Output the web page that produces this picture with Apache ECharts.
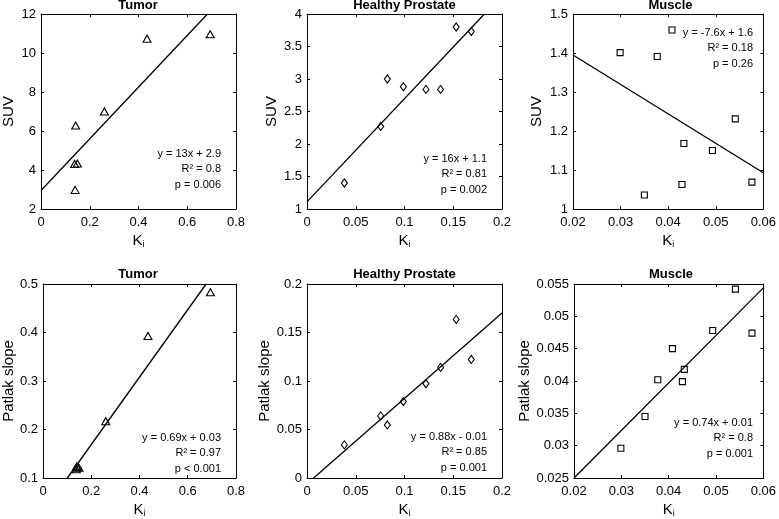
<!DOCTYPE html>
<html><head><meta charset="utf-8">
<script src="https://cdn.jsdelivr.net/npm/echarts@6/dist/echarts.min.js"></script>
<style>html,body{margin:0;padding:0;background:#fff}#c{width:779px;height:519px}</style>
</head><body><div id="c"></div>
<script>
// ---- data ----
const tumorKi = [0.142, 0.138, 0.149, 0.140, 0.260, 0.435, 0.694];
const tumorSUV = [6.28, 4.31, 4.33, 2.98, 7.0, 10.73, 10.96];
const tumorPatlak = [0.122, 0.118, 0.121, 0.124, 0.217, 0.393, 0.483];

const prostateKi = [0.0383, 0.0756, 0.0824, 0.0988, 0.122, 0.137, 0.153, 0.1685];
const prostateSUV = [1.40, 2.27, 3.00, 2.88, 2.84, 2.84, 3.80, 3.73];
const prostatePatlak = [0.0341, 0.064, 0.0547, 0.0788, 0.0971, 0.114, 0.1635, 0.1222];

const muscleKi = [0.0299, 0.0350, 0.0377, 0.0408, 0.0433, 0.0429, 0.0493, 0.0541, 0.0576];
const muscleSUV = [1.401, 1.036, 1.391, 1.459, 1.168, 1.063, 1.150, 1.231, 1.069];
const musclePatlak = [0.0296, 0.0345, 0.0402, 0.0450, 0.0418, 0.0399, 0.0478, 0.0542, 0.0474];

// fitted lines (endpoints)
const tumorSUVFit = [[0, 2.95], [0.683, 12]];
const prostateSUVFit = [[0, 1.11], [0.182, 4]];
const muscleSUVFit = [[0.02, 1.395], [0.06, 1.093]];
const tumorPatlakFit = [[0.101, 0.1], [0.676, 0.5]];
const prostatePatlakFit = [[0.0068, 0], [0.2, 0.170]];
const musclePatlakFit = [[0.02, 0.025], [0.06, 0.0544]];

const titles = ['Tumor', 'Healthy Prostate', 'Muscle', 'Tumor', 'Healthy Prostate', 'Muscle'];
const yNames = ['SUV', 'SUV', 'SUV', 'Patlak slope', 'Patlak slope', 'Patlak slope'];
const annotations = [
  ['y = 13x + 2.9', 'R² = 0.8', 'p = 0.006'],
  ['y = 16x + 1.1', 'R² = 0.81', 'p = 0.002'],
  ['y = -7.6x + 1.6', 'R² = 0.18', 'p = 0.26'],
  ['y = 0.69x + 0.03', 'R² = 0.97', 'p < 0.001'],
  ['y = 0.88x - 0.01', 'R² = 0.85', 'p = 0.001'],
  ['y = 0.74x + 0.01', 'R² = 0.8', 'p = 0.001']
];
// axis ranges: [xmin,xmax,xint,ymin,ymax,yint]
const ranges = [
  [0, 0.8, 0.2, 2, 12, 2],
  [0, 0.2, 0.05, 1, 4, 0.5],
  [0.02, 0.06, 0.01, 1, 1.5, 0.1],
  [0, 0.8, 0.2, 0.1, 0.5, 0.1],
  [0, 0.2, 0.05, 0, 0.2, 0.05],
  [0.02, 0.06, 0.01, 0.025, 0.055, 0.005]
];

// ---- layout ----
const FONT = '"Liberation Sans", Arial, Helvetica, sans-serif';
const grids = [
  {left: 40, top: 14, width: 196, height: 195},
  {left: 307, top: 14, width: 195, height: 195},
  {left: 573, top: 14, width: 195, height: 195},
  {left: 40, top: 284, width: 196, height: 194},
  {left: 307, top: 284, width: 195, height: 194},
  {left: 574, top: 284, width: 194, height: 194}
];
const yNameGap = [25, 28, 29, 27, 34, 42];
const annoTop = [148, 153, 27, 432, 431, 417];
const panels = [
  {x: tumorKi, y: tumorSUV, fit: tumorSUVFit, sym: 'triangle', size: [8, 7]},
  {x: prostateKi, y: prostateSUV, fit: prostateSUVFit, sym: 'diamond', size: [6, 8]},
  {x: muscleKi, y: muscleSUV, fit: muscleSUVFit, sym: 'rect', size: [6, 6]},
  {x: tumorKi, y: tumorPatlak, fit: tumorPatlakFit, sym: 'triangle', size: [8, 7]},
  {x: prostateKi, y: prostatePatlak, fit: prostatePatlakFit, sym: 'diamond', size: [6, 8]},
  {x: muscleKi, y: musclePatlak, fit: musclePatlakFit, sym: 'rect', size: [6, 6]}
];

const xAxis = [], yAxis = [], series = [], title = [], graphic = [];
const lineStyle = {color: '#000', width: 1};
panels.forEach((p, i) => {
  const r = ranges[i];
  const g = grids[i];
  const tick = {show: true, inside: true, length: 3, lineStyle: {color: '#000'}};
  xAxis.push({
    type: 'value', gridIndex: i, min: r[0], max: r[1], interval: r[2],
    axisLine: {show: true, onZero: false, lineStyle: lineStyle},
    axisTick: tick, splitLine: {show: false},
    axisLabel: {color: '#000', fontSize: 13, fontFamily: FONT, margin: 7},
    name: '{k|K}{s|i}', nameLocation: 'middle', nameGap: 23,
    nameTextStyle: {rich: {k: {fontSize: 15, fontFamily: FONT, color: '#000'}, s: {fontSize: 9, fontFamily: FONT, color: '#000', verticalAlign: 'bottom', padding: [8, 0, 0, 0]}}}
  });
  xAxis.push({
    type: 'value', gridIndex: i, position: 'top', min: r[0], max: r[1], interval: r[2],
    axisLine: {show: true, onZero: false, lineStyle: lineStyle},
    axisTick: tick, axisLabel: {show: false}, splitLine: {show: false}
  });
  yAxis.push({
    type: 'value', gridIndex: i, min: r[3], max: r[4], interval: r[5],
    axisLine: {show: true, onZero: false, lineStyle: lineStyle},
    axisTick: tick, splitLine: {show: false},
    axisLabel: {color: '#000', fontSize: 13, fontFamily: FONT, margin: 5},
    name: yNames[i], nameLocation: 'middle', nameGap: yNameGap[i],
    nameTextStyle: {fontSize: 15, fontFamily: FONT, color: '#000'}
  });
  yAxis.push({
    type: 'value', gridIndex: i, position: 'right', min: r[3], max: r[4], interval: r[5],
    axisLine: {show: true, onZero: false, lineStyle: lineStyle},
    axisTick: tick, axisLabel: {show: false}, splitLine: {show: false}
  });
  series.push({
    type: 'line', xAxisIndex: 2 * i, yAxisIndex: 2 * i, data: p.fit,
    symbol: 'none', lineStyle: {color: '#000', width: 1.3}, silent: true, animation: false
  });
  series.push({
    type: 'scatter', xAxisIndex: 2 * i, yAxisIndex: 2 * i,
    data: p.x.map((v, k) => [v, p.y[k]]),
    symbol: p.sym, symbolSize: p.size,
    itemStyle: {color: 'rgba(255,255,255,0)', borderColor: '#000', borderWidth: 1.1, opacity: 1},
    animation: false
  });
  title.push({
    text: titles[i], left: g.left + g.width / 2, top: i < 3 ? -1 : 268, textAlign: 'center', padding: 0,
    textStyle: {fontSize: 13, fontWeight: 'bold', fontFamily: FONT, color: '#000'}
  });
  annotations[i].forEach((t, k) => {
    graphic.push({
      type: 'text', right: 779 - (g.left + g.width - 15), top: annoTop[i] + k * 15.5,
      style: {text: t, font: '11px ' + FONT, fill: '#000', textAlign: 'right'}
    });
  });
});

const chart = echarts.init(document.getElementById('c'), null, {renderer: 'canvas'});
chart.setOption({
  backgroundColor: '#fff', animation: false,
  grid: grids, xAxis: xAxis, yAxis: yAxis, series: series, title: title, graphic: graphic
});
</script></body></html>
